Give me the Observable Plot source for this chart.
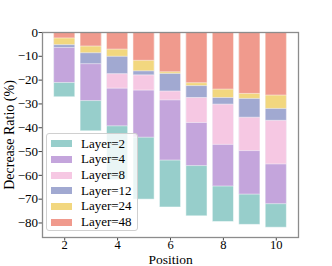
<!DOCTYPE html>
<html>
<head>
<meta charset="utf-8">
<script src="https://cdn.jsdelivr.net/npm/d3@7"></script>
<script src="https://cdn.jsdelivr.net/npm/@observablehq/plot@0.6"></script>
<style>
  body { margin: 0; background: #fff; }
  #wrap { position: relative; width: 332px; height: 266px; font-family: "Liberation Serif", serif; }
  #legend { position: absolute; left: 46px; top: 133px; width: 92px; height: 98px; box-sizing: border-box;
    border: 1px solid #d0d0d0; border-radius: 3px; background: rgba(255,255,255,0.8); }
  .row { position: absolute; left: 0; height: 15.7px; display: flex; align-items: center; font-size: 13px; color: #000; white-space: nowrap; }
  .sw { width: 21.6px; height: 7px; margin-left: 3.7px; margin-right: 8.7px; box-sizing: border-box; }
</style>
</head>
<body>
<div id="wrap"></div>
<script>
const positions = [2, 3, 4, 5, 6, 7, 8, 9, 10];
const layerNames = ["Layer=2", "Layer=4", "Layer=8", "Layer=12", "Layer=24", "Layer=48"];
const layerColors = ["#97cecb", "#c4a5dc", "#f6c8e3", "#a1a9d1", "#f2d77f", "#f09a8d"];
const layer2  = [-27.2, -41.5, -62.0, -70.2, -73.5, -77.2, -79.6, -80.8, -82.0];
const layer4  = [-21.2, -28.8, -39.4, -44.2, -53.8, -56.1, -64.7, -68.1, -72.1];
const layer8  = [-6.0, -12.0, -23.6, -24.4, -28.5, -38.0, -47.2, -49.8, -55.4];
const layer12 = [-6.5, -13.3, -17.5, -18.0, -24.8, -27.5, -30.3, -35.8, -37.1];
const layer24 = [-5.3, -8.7, -10.2, -16.3, -17.4, -22.5, -27.5, -27.9, -32.1];
const layer48 = [-2.5, -5.9, -7.2, -11.9, -16.7, -21.3, -24.0, -25.8, -26.5];
const yTicks = [0, -10, -20, -30, -40, -50, -60, -70, -80];
const xTicks = [2, 4, 6, 8, 10];

const series = [layer2, layer4, layer8, layer12, layer24, layer48];
const data = [];
series.forEach((vals, li) => {
  vals.forEach((v, i) => data.push({pos: positions[i], layer: layerNames[li], value: v}));
});

const chart = Plot.plot({
  width: 332,
  height: 266,
  marginLeft: 42,
  marginRight: 34,
  marginTop: 32,
  marginBottom: 29,
  style: {fontFamily: "Liberation Serif", fontSize: "13px", color: "#000", background: "#fff"},
  x: {type: "linear", domain: [1.16, 10.84]},
  y: {domain: [-86.1, 0]},
  color: {domain: layerNames, range: layerColors},
  marks: [
    Plot.rectY(data, {
      x1: d => d.pos - 0.4, x2: d => d.pos + 0.4,
      y1: 0, y2: "value",
      fill: "layer", stroke: "white", strokeOpacity: 0.5, strokeWidth: 1
    }),
    Plot.axisY({ticks: yTicks, tickSize: 3.5, tickPadding: 1, fontSize: 13, label: null, stroke: "#444"}),
    Plot.axisX({ticks: xTicks, tickSize: 3.5, tickPadding: -1, fontSize: 12.5, label: null, stroke: "#444"}),
    Plot.text(["Decrease Ratio (%)"], {frameAnchor: "left", dx: -33, rotate: -90, textAnchor: "middle", lineAnchor: "middle", fontSize: 14, fill: "#000"}),
    Plot.text(["Position"], {frameAnchor: "bottom", dy: 22, textAnchor: "middle", lineAnchor: "middle", fontSize: 13.5, fill: "#000"}),
    Plot.frame({stroke: "#8c8c8c", strokeWidth: 1.3})
  ]
});

const wrap = document.getElementById("wrap");
wrap.appendChild(chart);

const legend = document.createElement("div");
legend.id = "legend";
layerNames.forEach((name, i) => {
  const row = document.createElement("div");
  row.className = "row";
  row.style.top = (1.85 + 15.7 * i) + "px";
  const sw = document.createElement("span");
  sw.className = "sw";
  sw.style.background = layerColors[i];
  const tx = document.createElement("span");
  tx.textContent = name;
  row.appendChild(sw);
  row.appendChild(tx);
  legend.appendChild(row);
});
wrap.appendChild(legend);
</script>
</body>
</html>
